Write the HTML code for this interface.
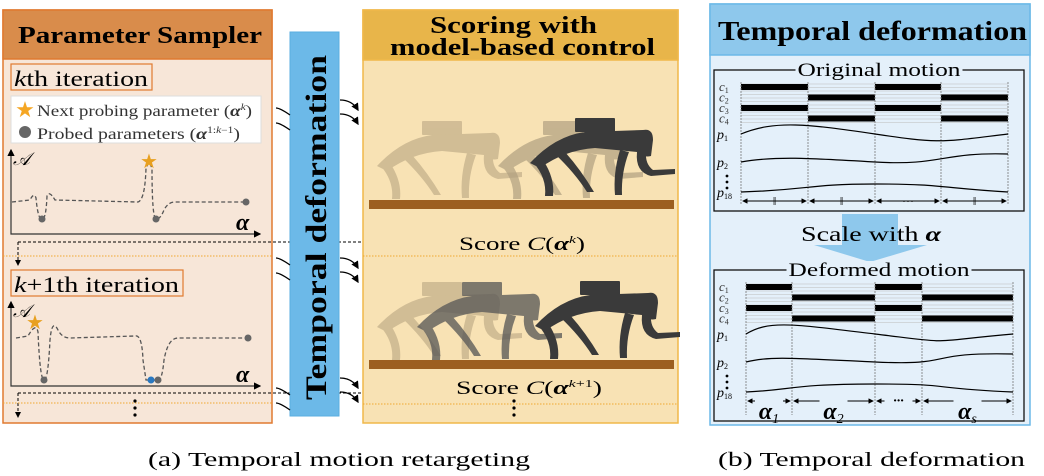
<!DOCTYPE html>
<html><head><meta charset="utf-8"><style>
html,body{margin:0;padding:0;background:#fff;}
svg{display:block;font-family:"Liberation Serif",serif;}
</style></head><body>
<svg id="fig" width="1044" height="476" viewBox="0 0 1044 476" xmlns="http://www.w3.org/2000/svg">
<defs>
<marker id="ah" markerWidth="6" markerHeight="6" refX="5" refY="3" orient="auto"><path d="M0,0 L6,3 L0,6 z" fill="#000"/></marker>
<marker id="ah2" markerWidth="6" markerHeight="6" refX="1" refY="3" orient="auto"><path d="M6,0 L0,3 L6,6 z" fill="#000"/></marker>
<g id="robot">
<rect x="50" y="0" width="40" height="14" rx="1"/>
<path d="M5,45 Q30,18 60,14 L118,12 Q128,10 128,22 L126,38 Q118,40 112,34 L70,30 Q40,32 15,50 z"/>
<path d="M8,44 Q22,60 20,78 L28,78 Q30,60 18,42 z"/>
<path d="M30,36 Q50,55 62,74 L69,74 Q56,52 40,34 z"/>
<path d="M95,32 Q88,55 90,77 L97,77 Q96,55 104,34 z"/>
<path d="M112,34 Q110,54 126,58 L150,56 L150,51 L128,52 Q120,46 121,34 z"/>
</g>
</defs>

<!-- LEFT PANEL -->
<g>
<rect x="3" y="10" width="269" height="413" fill="#f7e6d8" stroke="#e07a30" stroke-width="1.5"/>
<rect x="3" y="10" width="269" height="49" fill="#d98c4b" stroke="#e07a30" stroke-width="1.5"/>
<text x="18" y="43" font-size="24" font-weight="bold" textLength="244" lengthAdjust="spacingAndGlyphs">Parameter Sampler</text>
<rect x="11" y="64" width="141" height="26" fill="none" stroke="#e07a30" stroke-width="1.2"/>
<text x="14" y="86" font-size="22" textLength="134" lengthAdjust="spacingAndGlyphs"><tspan font-style="italic">k</tspan>th iteration</text>
<g>
<rect x="11" y="96" width="250" height="47" fill="#fff" stroke="#ddd"/>
<text x="25" y="117" font-size="22" fill="#f5a623" text-anchor="middle">★</text>
<text x="37" y="116" font-size="15.5" fill="#333" textLength="215" lengthAdjust="spacingAndGlyphs">Next probing parameter (<tspan font-weight="bold" font-style="italic">α</tspan><tspan font-size="9" dy="-6" font-style="italic">k</tspan><tspan dy="6">)</tspan></text>
<circle cx="25" cy="132" r="6" fill="#666"/>
<text x="37" y="139" font-size="15.5" fill="#333" textLength="203" lengthAdjust="spacingAndGlyphs">Probed parameters (<tspan font-weight="bold" font-style="italic">α</tspan><tspan font-size="9" dy="-6">1:<tspan font-style="italic">k</tspan>−1</tspan><tspan dy="6">)</tspan></text>
</g>
<g>
<path d="M11,150 L11,234 L260,234" fill="none" stroke="#333" stroke-width="1.2" marker-start="url(#ah2)" marker-end="url(#ah)"/>
<text x="13" y="165" font-size="18" font-style="italic">𝒜</text>
<text x="236" y="230" font-size="24" font-weight="bold" font-style="italic">α</text>
<path d="M12,202 L30,200 Q34,192 36,198 Q38,220 42,219 Q46,220 47,196 Q49,190 55,200 L138,202 Q145,200 146,168 L149,162 L152,168 Q152,218 156,219 Q160,220 164,210 Q168,202 175,202 L246,202" fill="none" stroke="#555" stroke-width="1.3" stroke-dasharray="4,2.5"/>
<circle cx="42" cy="219" r="3.5" fill="#666"/><circle cx="156" cy="219" r="3.5" fill="#666"/><circle cx="246" cy="202" r="3.5" fill="#666"/>
<text x="149" y="168" font-size="20" fill="#e8a020" text-anchor="middle">★</text>
</g>
<line x1="18" y1="242" x2="455" y2="242" stroke="#000" stroke-dasharray="3,2"/>
<line x1="18" y1="242" x2="18" y2="265" stroke="#000" stroke-dasharray="3,2" marker-end="url(#ah)"/>
<line x1="3" y1="256" x2="272" y2="256" stroke="#f0a830" stroke-dasharray="1.5,1.5"/>
<rect x="11" y="270" width="172" height="26" fill="none" stroke="#e07a30" stroke-width="1.2"/>
<text x="14" y="292" font-size="22" textLength="165" lengthAdjust="spacingAndGlyphs"><tspan font-style="italic">k</tspan>+1th iteration</text>
<g>
<path d="M11,302 L11,386 L260,386" fill="none" stroke="#333" stroke-width="1.2" marker-start="url(#ah2)" marker-end="url(#ah)"/>
<text x="13" y="317" font-size="18" font-style="italic">𝒜</text>
<text x="236" y="382" font-size="24" font-weight="bold" font-style="italic">α</text>
<path d="M16,338 L28,336 Q36,322 38,332 Q40,380 44,380 Q48,381 50,340 Q52,318 58,330 Q62,338 70,338 L135,336 Q142,334 143,360 L146,380 L158,380 Q162,381 164,360 Q168,338 178,338 L248,338" fill="none" stroke="#555" stroke-width="1.3" stroke-dasharray="4,2.5"/>
<circle cx="44" cy="380" r="3.5" fill="#666"/><circle cx="151" cy="380" r="3.5" fill="#2a78c0"/><circle cx="158" cy="380" r="3.5" fill="#666"/><circle cx="248" cy="338" r="3.5" fill="#666"/>
<text x="35" y="329" font-size="20" fill="#e8a020" text-anchor="middle">★</text>
</g>
<line x1="18" y1="393" x2="455" y2="393" stroke="#000" stroke-dasharray="3,2"/>
<line x1="18" y1="393" x2="18" y2="417" stroke="#000" stroke-dasharray="3,2" marker-end="url(#ah)"/>
<line x1="3" y1="403" x2="272" y2="403" stroke="#f0a830" stroke-dasharray="1.5,1.5"/>
<g fill="#000"><circle cx="135" cy="401" r="1.6"/><circle cx="135" cy="408" r="1.6"/><circle cx="135" cy="415" r="1.6"/></g>
</g>

<!-- BLUE BAR -->
<g>
<rect x="290" y="32" width="49" height="384" fill="#6cb9e8" stroke="#5aaee0"/>
<text transform="translate(326,400) rotate(-90)" font-size="30" font-weight="bold" textLength="345" lengthAdjust="spacingAndGlyphs">Temporal deformation</text>
</g>
<g fill="none" stroke="#000" stroke-width="1.3">
<path d="M290,115 Q280,108 276,108"/><path d="M290,130 Q280,123 276,123"/>
<path d="M290,265 Q280,258 276,258"/><path d="M290,280 Q280,273 276,273"/>
<path d="M290,395 Q280,388 276,388"/><path d="M290,410 Q280,403 276,403"/>
<path d="M340,100 Q352,100 358,110" marker-end="url(#ah)"/><path d="M340,114 Q352,114 358,124" marker-end="url(#ah)"/>
<path d="M340,258 Q352,258 358,268" marker-end="url(#ah)"/><path d="M340,272 Q352,272 358,282" marker-end="url(#ah)"/>
<path d="M340,378 Q352,378 358,388" marker-end="url(#ah)"/><path d="M340,392 Q352,392 358,402" marker-end="url(#ah)"/>
</g>

<!-- MIDDLE PANEL -->
<g>
<rect x="363" y="10" width="315" height="413" fill="#f8e2b4" stroke="#f0b84a" stroke-width="1.5"/>
<rect x="363" y="10" width="315" height="50" fill="#e8b54a" stroke="#f0b84a" stroke-width="1.5"/>
<text x="430" y="33" font-size="24" font-weight="bold" textLength="167" lengthAdjust="spacingAndGlyphs">Scoring with</text>
<text x="390" y="55" font-size="24" font-weight="bold" textLength="265" lengthAdjust="spacingAndGlyphs">model-based control</text>
<g>
<use href="#robot" transform="translate(372,121)" fill="#c8b48e" opacity="0.8"/>
<use href="#robot" transform="translate(493,121)" fill="#b0a080" opacity="0.7"/>
<use href="#robot" transform="translate(525,118)" fill="#3a3a3a"/>
</g>
<rect x="369" y="200" width="305" height="9" fill="#9c5f20"/>
<text x="459" y="250" font-size="19" textLength="126" lengthAdjust="spacingAndGlyphs">Score <tspan font-style="italic">C</tspan>(<tspan font-weight="bold" font-style="italic">α</tspan><tspan font-size="11" dy="-7" font-style="italic">k</tspan><tspan dy="7">)</tspan></text>
<line x1="363" y1="256" x2="678" y2="256" stroke="#f0a830" stroke-dasharray="1.5,1.5"/>
<g>
<use href="#robot" transform="translate(372,282)" fill="#c8b48e" opacity="0.8"/>
<use href="#robot" transform="translate(412,282)" fill="#555" opacity="0.75"/>
<use href="#robot" transform="translate(530,281)" fill="#3a3a3a"/>
</g>
<rect x="369" y="360" width="305" height="9" fill="#9c5f20"/>
<text x="456" y="394" font-size="19" textLength="146" lengthAdjust="spacingAndGlyphs">Score <tspan font-style="italic">C</tspan>(<tspan font-weight="bold" font-style="italic">α</tspan><tspan font-size="11" dy="-7"><tspan font-style="italic">k</tspan>+1</tspan><tspan dy="7">)</tspan></text>
<line x1="363" y1="404" x2="678" y2="404" stroke="#f0a830" stroke-dasharray="1.5,1.5"/>
<g fill="#000"><circle cx="514" cy="401" r="1.6"/><circle cx="514" cy="408" r="1.6"/><circle cx="514" cy="415" r="1.6"/></g>
</g>

<!-- RIGHT PANEL -->
<g>
<rect x="710" y="4" width="320" height="421" fill="#e4f0fa" stroke="#6cb9e8" stroke-width="1.5"/>
<rect x="710" y="4" width="320" height="51" fill="#8ec8ec" stroke="#6cb9e8" stroke-width="1.5"/>
<text x="718" y="40" font-size="27" font-weight="bold" textLength="309" lengthAdjust="spacingAndGlyphs">Temporal deformation</text>
<g id="orig"></g>
<g>
<rect x="842" y="214" width="56" height="32" fill="#8ec8ec"/>
<path d="M814,245 L927,245 L870,262 z" fill="#8ec8ec"/>
<text x="801" y="241" font-size="21" textLength="140" lengthAdjust="spacingAndGlyphs">Scale with <tspan font-weight="bold" font-style="italic">α</tspan></text>
</g>
<g id="deform"></g>
</g>

<text x="148" y="466" font-size="20" textLength="382" lengthAdjust="spacingAndGlyphs">(a) Temporal motion retargeting</text>
<text x="718" y="466" font-size="20" textLength="307" lengthAdjust="spacingAndGlyphs">(b) Temporal deformation</text>
</svg>
<script>
const NS='http://www.w3.org/2000/svg';
const origCols=[741,808,875,941,1008];
const defCols=[746,792,875,922,1013];
const contactPattern=[[1,0,1,0],[0,1,0,1],[1,0,1,0],[0,1,0,1]];
const rowLabels=['c','c','c','c'];
const rowSubs=['1','2','3','4'];
const defLabels=['1','2','…','s'];
function el(tag,attrs,parent){const e=document.createElementNS(NS,tag);for(const k in attrs)e.setAttribute(k,attrs[k]);parent.appendChild(e);return e;}
function drawBox(g,top,bottom,cols,title,isDef,tw){
  const left=714,right=1024;
  el('rect',{x:left,y:top,width:right-left,height:bottom-top,fill:'none',stroke:'#111','stroke-width':1.3},g);
  el('rect',{x:879-tw/2-2,y:top-9,width:tw+4,height:16,fill:'#e4f0fa'},g);
  const t=el('text',{x:879-tw/2,y:top+6,'font-size':19,textLength:tw,lengthAdjust:'spacingAndGlyphs'},g);t.textContent=title;
  const r0=top+14;
  for(let r=0;r<4;r++){
    const y=r0+r*10.5;
    for(let k=0;k<3;k++) el('line',{x1:cols[0],x2:cols[4],y1:y+k*3.5,y2:y+k*3.5,stroke:'#bbb','stroke-width':0.5},g);
    const lt=el('text',{x:719,y:y+7,'font-size':13,'font-style':'italic',fill:'#333'},g);
    lt.textContent=rowLabels[r];
    const s=el('tspan',{'font-size':8,dy:2,'font-style':'normal'},lt);s.textContent=rowSubs[r];
    for(let c=0;c<4;c++) if(contactPattern[r][c]){
      const b=el('rect',{x:cols[c],y:y,width:cols[c+1]-cols[c],height:6,fill:'#000'},g);
      
      
    }
  }
  cols.forEach(x=>el('line',{x1:x,x2:x,y1:r0-2,y2:bottom-6,stroke:'#777','stroke-width':0.8,'stroke-dasharray':'2,1'},g));
  const [a,b,c,d,e]=cols;
  const yp1=r0+50,yp2=r0+78,yp18=r0+108;
  el('path',{d:`M${a},${yp1} C${(a+b)/2},${yp1-14} ${b},${yp1-10} ${c},${yp1} S${d},${yp1+8} ${e},${yp1}`,fill:'none',stroke:'#000','stroke-width':1.2},g);
  el('path',{d:`M${a},${yp2} C${(a+b)/2},${yp2-6} ${b},${yp2-4} ${c},${yp2} S${d},${yp2-10} ${e},${yp2-8}`,fill:'none',stroke:'#000','stroke-width':1.2},g);
  el('path',{d:`M${a},${yp18} C${b},${yp18-2} ${b},${yp18-8} ${c},${yp18-8} S${d},${yp18-4} ${e},${yp18}`,fill:'none',stroke:'#000','stroke-width':1.2},g);
  [['p','1',yp1+5],['p','2',yp2+5],['p','18',yp18+5]].forEach(([l,s,y])=>{const t=el('text',{x:717,y:y,'font-size':14,'font-style':'italic'},g);t.textContent=l;const ts=el('tspan',{'font-size':8,dy:2,'font-style':'normal'},t);ts.textContent=s;});
  [yp2+14,yp2+20,yp2+26].forEach(y=>el('circle',{cx:727,cy:y,r:1.4,fill:'#000'},g));
  const ay=yp18+9;
  for(let i=0;i<4;i++){
    el('line',{x1:cols[i]+2,x2:cols[i+1]-2,y1:ay,y2:ay,stroke:'#000','stroke-width':0.9,'marker-start':'url(#ah2)','marker-end':'url(#ah)'},g);
    const mx=(cols[i]+cols[i+1])/2;
    if(isDef){
      el('rect',{x:mx-14,y:ay-2,width:28,height:4,fill:'#e4f0fa'},g);
      const t=el('text',{x:mx,y:ay+18,'text-anchor':'middle','font-size':i==2?14:24,'font-weight':'bold','font-style':'italic'},g);
      if(i==2){t.setAttribute('y',ay+4);t.textContent='···';}
      else{t.textContent='α';const s=el('tspan',{'font-size':14,dy:4,'font-weight':'normal'},t);s.textContent=defLabels[i];}
    } else {
      const t=el('text',{x:mx,y:ay+4,'text-anchor':'middle','font-size':12},g);t.textContent=i==2?'···':'ǁ';
    }
  }
}
drawBox(document.getElementById('orig'),70,211,origCols,'Original motion',false,163);
drawBox(document.getElementById('deform'),270,421,defCols,'Deformed motion',true,181);
</script>
</body></html>
